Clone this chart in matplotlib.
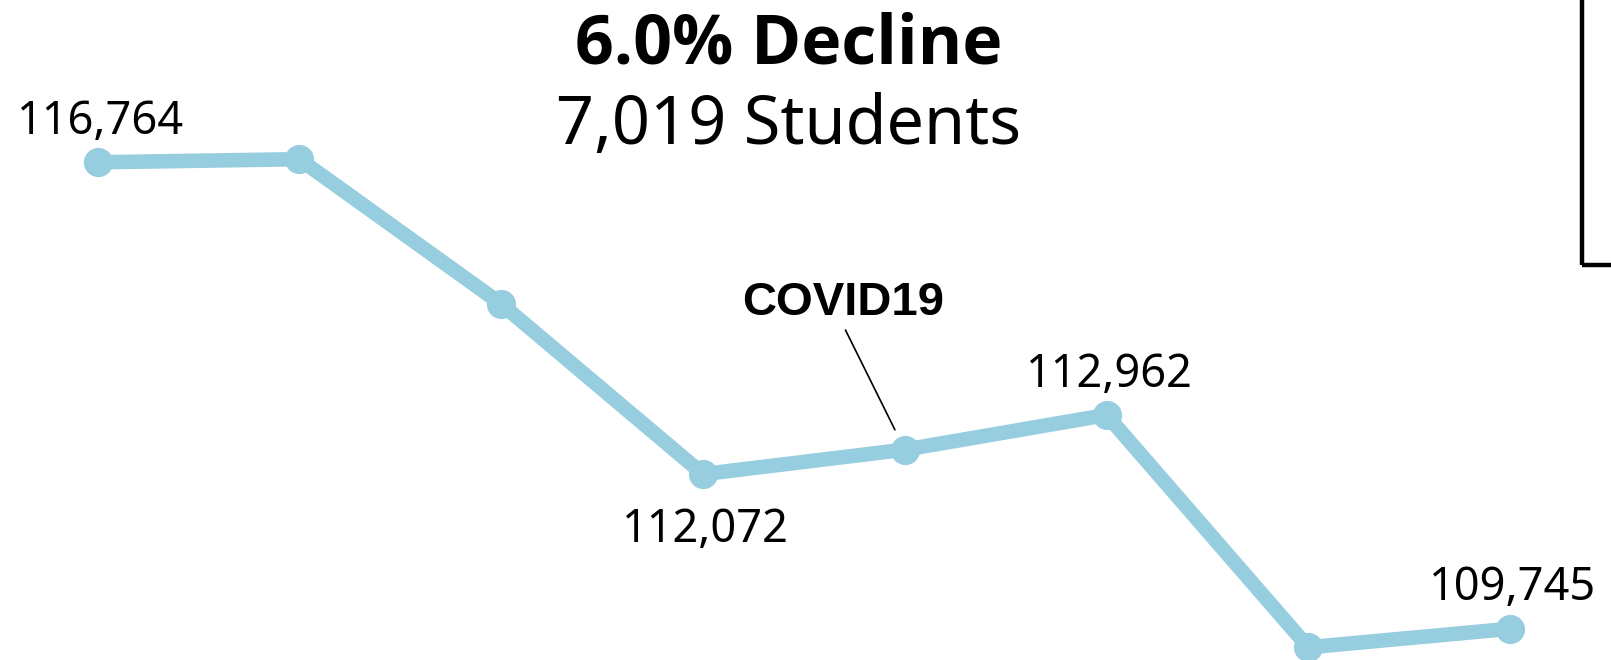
import matplotlib
matplotlib.use("Agg")
import matplotlib.pyplot as plt
from matplotlib.patches import Rectangle

# enrollment per year (8 points, first to last)
positions = [0, 1, 2, 3, 4, 5, 6, 7]
enrollment = [116764, 116811, 114632, 112072, 112440, 112962, 109466, 109745]
labeled = [0, 3, 5, 7]
label_below = [3]
covid_index = 4
title_main = "6.0% Decline"
title_sub = "7,019 Students"

line_color = "#96cddf"
font_main = ["Noto Sans", "DejaVu Sans"]
font_bold = ["Open Sans", "Lato", "DejaVu Sans"]

fig = plt.figure(figsize=(16.11, 6.6), dpi=100)
ax = fig.add_axes([0, 0, 1, 1])
ax.set_xlim(-0.484, 7.5)
ax.set_ylim(109275, 119206)
ax.axis("off")

ax.plot(positions, enrollment, color=line_color, lw=10.5, marker="o",
        markersize=20, solid_capstyle="round", clip_on=False, zorder=2)

for i in labeled:
    dy = -40 if i in label_below else 29
    ax.annotate(f"{enrollment[i]:,}", (positions[i], enrollment[i]),
                xytext=(2, dy), textcoords="offset points",
                ha="center", va="center", fontsize=32.5,
                family=font_main, color="black")

# covid callout
ax.annotate("COVID19", (positions[covid_index], enrollment[covid_index]),
            xytext=(-44.6, 105.8), textcoords="offset points",
            ha="center", va="center", fontsize=34, fontweight="bold",
            family="Liberation Sans",
            arrowprops=dict(arrowstyle="-", color="black", lw=1.2,
                            shrinkB=16, relpos=(0.5, 0)))

fig.text(789 / 1611, 1 - 45 / 660, title_main, ha="center", va="center",
         fontsize=49, fontweight="bold", family=font_bold)
fig.text(789 / 1611, 1 - 126 / 660, title_sub, ha="center", va="center",
         fontsize=48, family=font_main)

# partial box at top right
fig.patches.append(Rectangle((1582 / 1611, 1 - 265 / 660), 0.2, 0.6,
                             transform=fig.transFigure, fill=False,
                             edgecolor="black", lw=3.2, clip_on=False))

fig.savefig("out.png", dpi=100, facecolor="white")
